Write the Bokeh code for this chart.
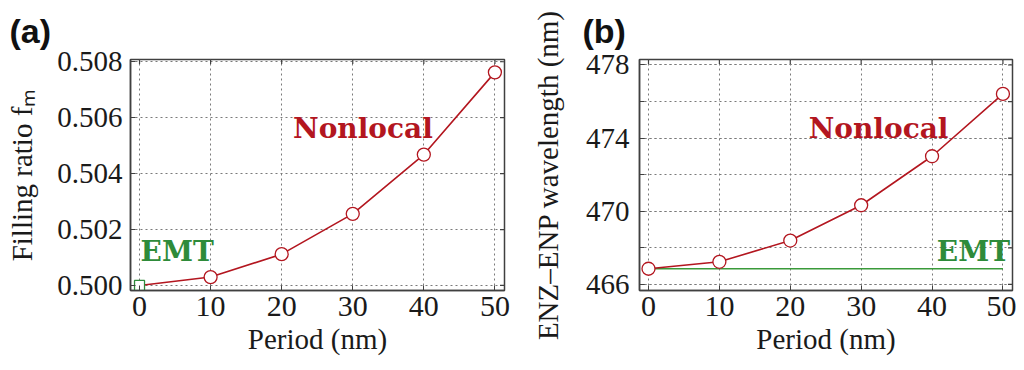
from math import pi
from bokeh.plotting import figure
from bokeh.layouts import row
from bokeh.models import Range1d, FixedTicker, Label, NumeralTickFormatter
from bokeh.embed import file_html
from bokeh.resources import INLINE

# ---- data ----
period = [0, 10, 20, 30, 40, 50]
fill_nonlocal = [0.5000, 0.50030, 0.50112, 0.50256, 0.50468, 0.50762]
emt_fill_x = [0]
emt_fill_y = [0.5000]
wl_nonlocal = [466.86, 467.24, 468.40, 470.33, 473.01, 476.42]
emt_wl_x = [0, 50]
emt_wl_y = [466.86, 466.86]

x_ticks = [0, 10, 20, 30, 40, 50]
a_y_ticks = [0.500, 0.502, 0.504, 0.506, 0.508]
b_y_ticks = [466, 470, 474, 478]
b_y_minor = [466, 468, 470, 472, 474, 476, 478]

RED = "#b3161f"
GREEN = "#2e8b3a"
FRAME = "#404040"
SERIF = "serif"


def style(p, yticks, yminor, xr, yr, ystandoff, ylabel_standoff):
    p.outline_line_color = FRAME
    p.outline_line_width = 1.5
    for ax in (p.xaxis[0], p.yaxis[0]):
        ax.axis_line_color = FRAME
        ax.axis_line_width = 1.5
        ax.major_tick_in = 5
        ax.major_tick_out = 0
        ax.minor_tick_in = 5
        ax.minor_tick_out = 0
        ax.major_tick_line_color = FRAME
        ax.minor_tick_line_color = FRAME
        ax.major_label_text_font = SERIF
        ax.major_label_text_color = "#1a1a1a"
        ax.axis_label_text_font = SERIF
        ax.axis_label_text_font_size = "29px"
        ax.axis_label_text_font_style = "normal"
        ax.axis_label_text_color = "#1a1a1a"
    p.xaxis[0].major_label_text_font_size = "30px"
    p.yaxis[0].major_label_text_font_size = "29px"
    p.xaxis[0].ticker = FixedTicker(ticks=x_ticks)
    p.xaxis[0].major_label_standoff = 6
    p.xaxis[0].axis_label_standoff = 4
    p.yaxis[0].ticker = FixedTicker(ticks=yticks, minor_ticks=yminor)
    p.yaxis[0].major_label_standoff = ystandoff
    p.yaxis[0].axis_label_standoff = ylabel_standoff
    p.xaxis[0].axis_label = "Period (nm)"
    # tick marks on the top and right edges of the box
    p.scatter(x_ticks, [yr.end] * len(x_ticks), marker="dash", angle=pi / 2,
              size=9, line_color=FRAME, line_width=1.2)
    right_ticks = yminor if yminor else yticks
    p.scatter([xr.end] * len(right_ticks), right_ticks, marker="dash",
              size=9, line_color=FRAME, line_width=1.2)
    for g in (p.xgrid[0], p.ygrid[0]):
        g.grid_line_color = "#7a7a7a"
        g.grid_line_dash = "2 3"
        g.grid_line_width = 1
    p.xgrid[0].ticker = FixedTicker(ticks=x_ticks)
    p.ygrid[0].ticker = FixedTicker(ticks=yticks, minor_ticks=yminor)
    if yminor:
        p.ygrid[0].minor_grid_line_color = "#7a7a7a"
        p.ygrid[0].minor_grid_line_dash = "2 3"
        p.ygrid[0].minor_grid_line_width = 1
    p.title.text_font = "Liberation Sans"
    p.title.text_font_size = "34px"
    p.title.text_font_style = "bold"
    p.title.text_color = "#111111"
    p.title.align = "left"
    p.title.standoff = 19


# ---- panel (a) ----
xr1 = Range1d(-1.27, 51.35)
yr1 = Range1d(0.49982, 0.50808)
p1 = figure(frame_width=374, frame_height=231, output_backend="svg", toolbar_location=None,
            x_range=xr1, y_range=yr1, title="(a)",
            min_border_left=130, min_border_right=8, min_border_top=59,
            min_border_bottom=76)
style(p1, a_y_ticks, [], xr1, yr1, 8, 16)
p1.title.offset = -121
p1.yaxis[0].formatter = NumeralTickFormatter(format="0.000")
p1.yaxis[0].axis_label = "Filling ratio fₘ"
p1.line(period, fill_nonlocal, line_color=RED, line_width=1.6)
p1.scatter(period[1:], fill_nonlocal[1:], marker="circle", size=13,
           fill_color="white", line_color=RED, line_width=1.3)
p1.scatter(emt_fill_x, emt_fill_y, marker="square", size=10,
           fill_color="white", line_color=GREEN, line_width=1.3)
p1.add_layout(Label(x=21.6, y=0.50561, text="Nonlocal", text_font="DejaVu Serif",
                    text_font_style="bold", text_font_size="28px", text_color=RED,
                    text_baseline="alphabetic"))
p1.add_layout(Label(x=0.15, y=0.50122, text="EMT", text_font="DejaVu Serif",
                    text_font_style="bold", text_font_size="28px", text_color=GREEN,
                    text_baseline="alphabetic"))

# ---- panel (b) ----
xr2 = Range1d(-1.27, 51.35)
yr2 = Range1d(465.67, 478.3)
p2 = figure(frame_width=373, frame_height=231, output_backend="svg", toolbar_location=None,
            x_range=xr2, y_range=yr2, title="(b)",
            min_border_left=127, min_border_right=4, min_border_top=59,
            min_border_bottom=76)
style(p2, b_y_ticks, b_y_minor, xr2, yr2, 10, 19)
p2.title.offset = -57
p2.yaxis[0].axis_label = "ENZ–ENP wavelength (nm)"
p2.line(emt_wl_x, emt_wl_y, line_color="#3a9a3a", line_width=1.6)
p2.line(period, wl_nonlocal, line_color=RED, line_width=1.6)
p2.scatter(period, wl_nonlocal, marker="circle", size=13,
           fill_color="white", line_color=RED, line_width=1.3)
p2.add_layout(Label(x=22.6, y=474.53, text="Nonlocal", text_font="DejaVu Serif",
                    text_font_style="bold", text_font_size="28px", text_color=RED,
                    text_baseline="alphabetic"))
p2.add_layout(Label(x=51.0, y=467.81, text="EMT", text_font="DejaVu Serif",
                    text_font_style="bold", text_font_size="28px", text_color=GREEN,
                    text_baseline="alphabetic", text_align="right"))

layout = row(p1, p2)
open("out.html", "w").write(file_html(layout, INLINE))
